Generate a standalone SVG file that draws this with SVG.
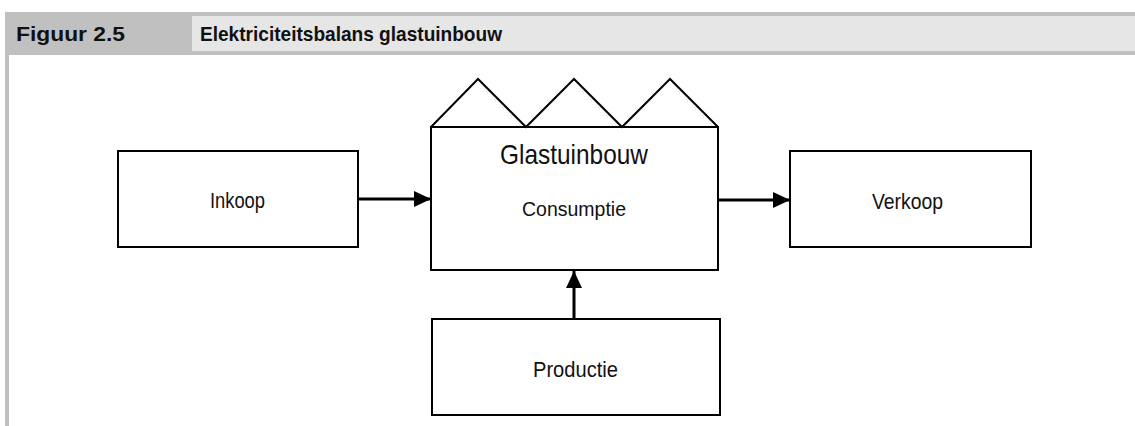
<svg xmlns="http://www.w3.org/2000/svg" width="1135" height="426" viewBox="0 0 1135 426">
<style>
.box{fill:#fff;stroke:#000;stroke-width:2}
.lbl{font-family:"Liberation Sans",Arial,sans-serif;font-size:22px;fill:#111;text-anchor:middle}
.hdr{font-family:"Liberation Sans",Arial,sans-serif;font-size:21px;font-weight:bold;fill:#111}
.con{stroke:#000;stroke-width:3;fill:none}
</style>
<defs>
<marker id="ah" markerUnits="userSpaceOnUse" markerWidth="18" markerHeight="16" refX="17" refY="8" orient="auto">
<path d="M0,0 L17,8 L0,16 Z" fill="#000"/>
</marker>
</defs>
<rect x="0" y="0" width="1135" height="426" fill="#fff"/>
<g id="header">
<rect x="5" y="12" width="1130" height="43" fill="#c0c0c0"/>
<rect x="192" y="16" width="943" height="35" fill="#e6e6e6"/>
<rect x="5" y="55" width="4" height="371" fill="#c0c0c0"/>
<text class="hdr" x="16" y="41" textLength="109" lengthAdjust="spacingAndGlyphs">Figuur 2.5</text>
<text class="hdr" x="200" y="41" textLength="302" lengthAdjust="spacingAndGlyphs">Elektriciteitsbalans glastuinbouw</text>
</g>
<g id="inkoop">
<rect class="box" x="118" y="151" width="240" height="96"/>
<text class="lbl" x="237.5" y="208" textLength="55" lengthAdjust="spacingAndGlyphs">Inkoop</text>
</g>
<g id="glastuinbouw">
<rect class="box" x="431" y="127" width="287" height="143"/>
<polyline points="431,127 478,79 526,127 574,79 622,127 670,79 718,127" fill="none" stroke="#000" stroke-width="2" stroke-linejoin="miter"/>
<text class="lbl" x="574" y="164" textLength="148" lengthAdjust="spacingAndGlyphs" style="font-size:28px">Glastuinbouw</text>
<text class="lbl" x="574" y="216" textLength="104" lengthAdjust="spacingAndGlyphs" style="font-size:19.5px">Consumptie</text>
</g>
<g id="verkoop">
<rect class="box" x="790" y="151" width="241" height="96"/>
<text class="lbl" x="907.5" y="209" textLength="71" lengthAdjust="spacingAndGlyphs">Verkoop</text>
</g>
<g id="productie">
<rect class="box" x="432" y="319" width="288" height="96"/>
<text class="lbl" x="575.5" y="377" textLength="85" lengthAdjust="spacingAndGlyphs">Productie</text>
</g>
<g id="connectors">
<line class="con" x1="358" y1="199" x2="431" y2="199" marker-end="url(#ah)"/>
<line class="con" x1="718" y1="200" x2="790" y2="200" marker-end="url(#ah)"/>
<line class="con" x1="574" y1="319" x2="574" y2="271" marker-end="url(#ah)"/>
</g>
</svg>
